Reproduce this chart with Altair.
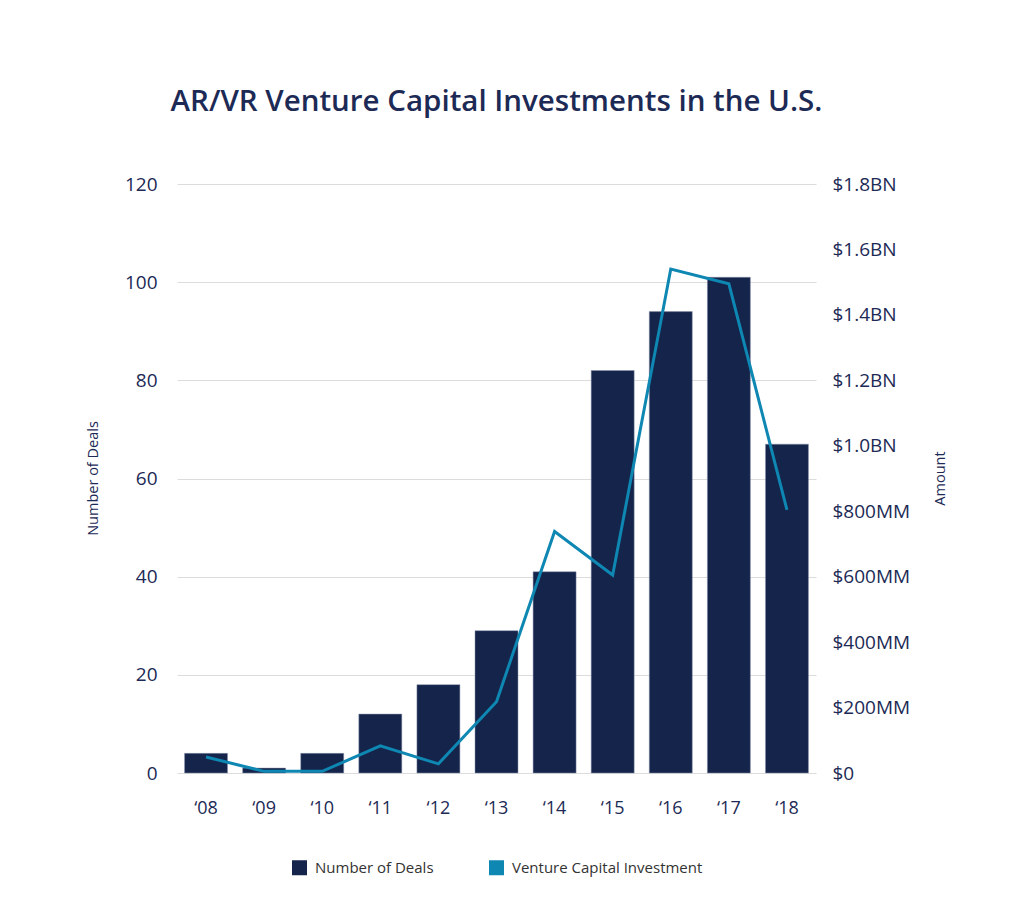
import altair as alt
import pandas as pd

years = ["‘08", "‘09", "‘10", "‘11", "‘12", "‘13", "‘14", "‘15", "‘16", "‘17", "‘18"]
deals = [4, 1, 4, 12, 18, 29, 41, 82, 94, 101, 67]
amount_mm = [49, 5, 5, 83, 28, 218, 738, 605, 1540, 1495, 804]
series = ["Number of Deals", "Venture Capital Investment"]
left_ticks = [0, 20, 40, 60, 80, 100, 120]
right_ticks = [0, 200, 400, 600, 800, 1000, 1200, 1400, 1600, 1800]

NAVY = "#14244b"
TEAL = "#0e87b2"
TEXT = "#1c2a55"
FONT = "Open Sans"

bars_df = pd.DataFrame({"year": years, "deals": deals, "series": series[0]})
line_df = pd.DataFrame({"year": years, "amount": amount_mm, "series": series[1]})

color = alt.Color(
    "series:N",
    scale=alt.Scale(domain=series, range=[NAVY, TEAL]),
    legend=alt.Legend(
        title=None, orient="none", direction="horizontal",
        legendX=115, legendY=676, symbolType="square", symbolSize=225,
        symbolStrokeWidth=0, labelFontSize=15, labelColor="#333333",
        labelFont=FONT, labelOffset=8, columnPadding=55, padding=0,
        labelLimit=400,
    ),
)

x = alt.X(
    "year:N", sort=years,
    scale=alt.Scale(paddingInner=0.26, paddingOuter=0.13),
    axis=alt.Axis(title=None, labelAngle=0, labelFontSize=18, labelPadding=26,
                  labelColor=TEXT, labelFont=FONT, domain=False, ticks=False, grid=False),
)

bars = alt.Chart(bars_df).mark_bar(stroke="#8a93ad", strokeWidth=0.5).encode(
    x=x,
    y=alt.Y("deals:Q", scale=alt.Scale(domain=[0, 120], nice=False),
            axis=alt.Axis(title="Number of Deals", values=left_ticks, labelFontSize=19,
                          labelColor=TEXT, labelFont=FONT, labelPadding=20,
                          domain=False, ticks=False, grid=True, gridColor="#dcdcdc",
                          titleFontSize=14.5, titleFontWeight="normal", titleColor=TEXT,
                          titleFont=FONT, titleAngle=270, titleX=-84, titleY=294,
                          titleBaseline="middle")),
    color=color,
)

line = alt.Chart(line_df).mark_line(strokeWidth=3).encode(
    x=x,
    y=alt.Y("amount:Q", scale=alt.Scale(domain=[0, 1800], nice=False),
            axis=alt.Axis(title="Amount", orient="right", values=right_ticks,
                          labelExpr="datum.value == 0 ? '$0' : (datum.value >= 1000 ? '$' + format(datum.value/1000, '.1f') + 'BN' : '$' + format(datum.value, 'd') + 'MM')",
                          labelFontSize=19, labelColor=TEXT, labelFont=FONT, labelPadding=16,
                          domain=False, ticks=False, grid=False,
                          titleFontSize=14.5, titleFontWeight="normal", titleColor=TEXT,
                          titleFont=FONT, titleAngle=270, titleX=124, titleY=294,
                          titleBaseline="middle")),
    color=color,
)

chart = alt.layer(bars, line).resolve_scale(y="independent").properties(
    width=639, height=589,
    padding={"left": 169, "top": 176, "right": 200, "bottom": 136},
    autosize=alt.AutoSizeParams(type="none"),
    title=alt.TitleParams(
        text="AR/VR Venture Capital Investments in the U.S.",
        fontSize=29.5, font=FONT, fontWeight=600, color=TEXT,
        anchor="middle", frame="group", offset=58,
    ),
).configure_view(stroke=None)

chart.save("out.html", embed_options={"renderer": "svg", "actions": False})
